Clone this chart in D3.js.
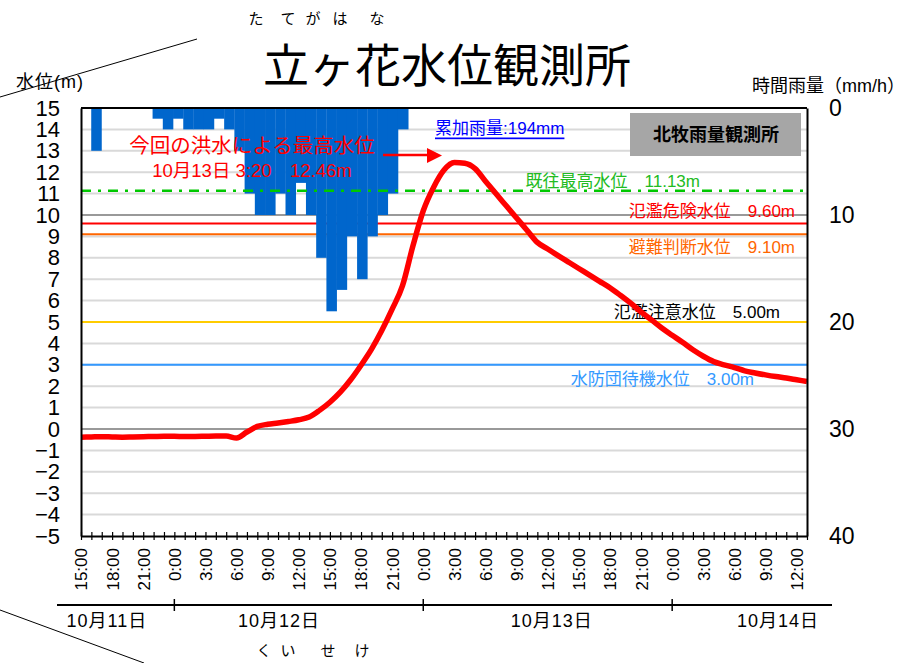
<!DOCTYPE html>
<html>
<head>
<meta charset="utf-8">
<script src="https://cdn.jsdelivr.net/npm/d3@7"></script>
<style>
body { margin: 0; background: #fff; }
svg { display: block; }
</style>
</head>
<body>
<svg id="chart" width="916" height="663"></svg>
<script>
// hourly readings, first one at 15:00 on 10/11, last one at 13:00 on 10/14
var start = new Date(2019, 9, 11, 15)

// water level (m) at Tategahana
var levels = [
  -0.38, -0.37, -0.36, -0.37, -0.38, -0.37, -0.36, -0.35, -0.34, -0.34,
  -0.35, -0.35, -0.34, -0.33, -0.33, -0.42, -0.14, 0.12, 0.22, 0.28,
  0.35, 0.43, 0.56, 0.87, 1.25, 1.72, 2.3, 2.98, 3.72, 4.6,
  5.6, 6.7, 8.55, 10.2, 11.3, 12.1, 12.45, 12.42, 12.17, 11.58,
  11.0, 10.43, 9.86, 9.29, 8.72, 8.41, 8.1, 7.8, 7.5, 7.2,
  6.9, 6.6, 6.25, 5.88, 5.47, 5.1, 4.72, 4.38, 4.05, 3.7,
  3.4, 3.15, 3.0, 2.87, 2.72, 2.62, 2.53, 2.45, 2.38, 2.3,
  2.22]

// hourly rain (mm/h) at Kitamaki, total 194 mm
var rain = [
  0, 4, 0, 0, 0, 0, 0, 1, 2, 1,
  2, 2, 2, 1, 2, 4, 8, 10, 10, 8,
  10, 7, 10, 14, 19, 17, 12, 16, 12, 10,
  8, 2, 0, 0, 0, 0, 0, 0, 0, 0,
  0, 0, 0, 0, 0, 0, 0, 0, 0, 0,
  0, 0, 0, 0, 0, 0, 0, 0, 0, 0,
  0, 0, 0, 0, 0, 0, 0, 0, 0, 0,
  0]

var levelTicks = d3.range(-5, 16)
var rainTicks = [0, 10, 20, 30, 40]
var dayNames = ["10月11日", "10月12日", "10月13日", "10月14日"]

var thresholdNames = ["既往最高水位", "氾濫危険水位", "避難判断水位", "氾濫注意水位", "水防団待機水位"]
var thresholdValues = [11.13, 9.60, 9.10, 5.00, 3.00]

var peakLabel = "10月13日 3:20　12.46m"
var rainTotal = 194

// look of each threshold line and its label
var thStyle = {
  "既往最高水位": {color: "#00c800", text: "#22bb22", end: 700, dy: -9, dash: "10,7,3,7", over: true},
  "氾濫危険水位": {color: "#ff0000", text: "#ff0000", end: 795, dy: -12},
  "避難判断水位": {color: "#ff6600", text: "#ff6600", end: 795, dy: 13},
  "氾濫注意水位": {color: "#ffcc00", text: "#000000", end: 780, dy: -10},
  "水防団待機水位": {color: "#3399ff", text: "#3399ff", end: 754, dy: 15}
}

var FONT = "'Liberation Sans', 'Noto Sans CJK JP', sans-serif"
var plotL = 81, plotR = 807, plotT = 108, plotB = 536

var svg = d3.select("#chart").attr("font-family", FONT)

var x = d3.scaleTime()
  .domain([start, d3.timeHour.offset(start, levels.length - 1)])
  .range([plotL, plotR])
var xb = d3.scaleBand().domain(d3.range(rain.length)).range([plotL, plotR]).padding(0)
var y = d3.scaleLinear().domain([-5, 15]).range([plotB, plotT])
var yRain = d3.scaleLinear().domain([0, 40]).range([plotT, plotB])

// decorative diagonal strokes of the original figure
svg.append("line").attr("x1", 0).attr("y1", 97).attr("x2", 197).attr("y2", 39).attr("stroke", "#000")
svg.append("line").attr("x1", 0).attr("y1", 610).attr("x2", 144).attr("y2", 663).attr("stroke", "#000")

// grid
svg.append("g").selectAll("line")
  .data(levelTicks.slice(1, -1))
  .join("line")
  .attr("x1", plotL).attr("x2", plotR)
  .attr("y1", d => y(d)).attr("y2", d => y(d))
  .attr("stroke", "#d9d9d9").attr("stroke-width", 2)
svg.append("g").selectAll("line")
  .data([10, 30])
  .join("line")
  .attr("x1", plotL).attr("x2", plotR)
  .attr("y1", d => yRain(d)).attr("y2", d => yRain(d))
  .attr("stroke", "#999").attr("stroke-width", 2)

// threshold lines (all but the record level sit under the rain)
function thLine(g, i) {
  var s = thStyle[thresholdNames[i]]
  g.append("line")
    .attr("x1", plotL).attr("x2", plotR)
    .attr("y1", y(thresholdValues[i])).attr("y2", y(thresholdValues[i]))
    .attr("stroke", s.color).attr("stroke-width", s.over ? 2.5 : 2)
    .attr("stroke-dasharray", s.dash || null)
}
var under = svg.append("g")
thresholdNames.forEach((n, i) => { if (!thStyle[n].over) thLine(under, i) })

// rain bars hanging from the top
svg.append("g").selectAll("rect")
  .data(rain)
  .join("rect")
  .attr("x", (d, i) => xb(i))
  .attr("width", xb.bandwidth() + 0.3)
  .attr("y", yRain(0))
  .attr("height", d => yRain(d) - yRain(0))
  .attr("fill", "#0066cc")

var overG = svg.append("g")
thresholdNames.forEach((n, i) => { if (thStyle[n].over) thLine(overG, i) })

// threshold labels
svg.append("g").selectAll("text")
  .data(thresholdNames)
  .join("text")
  .attr("x", d => thStyle[d].end)
  .attr("y", (d, i) => y(thresholdValues[i]) + thStyle[d].dy)
  .attr("text-anchor", "end")
  .attr("dominant-baseline", "central")
  .attr("font-size", 17)
  .attr("fill", d => thStyle[d].text)
  .text((d, i) => d + "　" + thresholdValues[i].toFixed(2) + "m")

// rain station box and total
svg.append("rect").attr("x", 630).attr("y", 113).attr("width", 171).attr("height", 43).attr("fill", "#a6a6a6")
svg.append("text").attr("x", 716).attr("y", 135)
  .attr("text-anchor", "middle").attr("dominant-baseline", "central")
  .attr("font-size", 18).attr("font-weight", "bold")
  .text("北牧雨量観測所")
svg.append("text").attr("x", 435).attr("y", 128)
  .attr("dominant-baseline", "central")
  .attr("font-size", 17).attr("fill", "#0000ff")
  .attr("text-decoration", "underline")
  .text("累加雨量:" + rainTotal + "mm")

// peak annotation
svg.append("text").attr("x", 252).attr("y", 145)
  .attr("text-anchor", "middle").attr("dominant-baseline", "central")
  .attr("font-size", 20.5).attr("fill", "#ff0000")
  .text("今回の洪水による最高水位")
svg.append("text").attr("x", 252).attr("y", 170)
  .attr("text-anchor", "middle").attr("dominant-baseline", "central")
  .attr("font-size", 18.5).attr("fill", "#ff0000")
  .text(peakLabel)
svg.append("line").attr("x1", 383).attr("y1", 155).attr("x2", 430).attr("y2", 155)
  .attr("stroke", "#ff0000").attr("stroke-width", 2.5)
svg.append("path").attr("d", "M427,148L442,155.5L427,163Z").attr("fill", "#ff0000")

// water level line
var line = d3.line()
  .x((d, i) => x(d3.timeHour.offset(start, i)))
  .y(d => y(d))
  .curve(d3.curveMonotoneX)
svg.append("path")
  .datum(levels)
  .attr("d", line)
  .attr("fill", "none")
  .attr("stroke", "#ff0000")
  .attr("stroke-width", 5.5)
  .attr("stroke-linejoin", "round")

// frame top
svg.append("line").attr("x1", plotL).attr("x2", plotR).attr("y1", plotT).attr("y2", plotT)
  .attr("stroke", "#000").attr("stroke-width", 2)

// axes
var ax = svg.append("g").attr("transform", "translate(" + plotL + ",0)")
  .call(d3.axisLeft(y).tickValues(levelTicks).tickSize(0).tickPadding(21))
ax.attr("font-family", FONT).attr("font-size", 22)
ax.select(".domain").attr("stroke-width", 2)
ax.selectAll("text").attr("fill", "#000")

var ar = svg.append("g").attr("transform", "translate(" + plotR + ",0)")
  .call(d3.axisRight(yRain).tickValues(rainTicks).tickSize(0).tickPadding(22))
ar.attr("font-family", FONT).attr("font-size", 23)
ar.select(".domain").attr("stroke-width", 2)
ar.selectAll("text").attr("fill", "#000")

var ab = svg.append("g").attr("transform", "translate(0," + plotB + ")")
  .call(d3.axisBottom(x).ticks(d3.timeHour.every(1)).tickSize(4).tickSizeOuter(0).tickFormat(""))
ab.select(".domain").attr("stroke-width", 2)
ab.selectAll(".tick line").attr("y1", -4).attr("stroke-width", 1.2)

var al = svg.append("g").attr("transform", "translate(0," + plotB + ")")
  .call(d3.axisBottom(x).ticks(d3.timeHour.every(3)).tickSize(0).tickFormat(d3.timeFormat("%-H:%M")))
al.attr("font-family", FONT).attr("font-size", 17)
al.select(".domain").remove()
al.selectAll("text")
  .attr("transform", "rotate(-90)")
  .attr("x", -12).attr("y", 0).attr("dy", "0.35em")
  .attr("text-anchor", "end")
  .attr("fill", "#000")

// date row
var dayStarts = d3.timeDay.range(d3.timeDay.offset(d3.timeDay.floor(start), 1), x.domain()[1])
svg.append("line").attr("x1", 57).attr("x2", 832).attr("y1", 605).attr("y2", 605)
  .attr("stroke", "#000").attr("stroke-width", 2)
svg.append("g").selectAll("line")
  .data(dayStarts)
  .join("line")
  .attr("x1", d => x(d)).attr("x2", d => x(d))
  .attr("y1", 599).attr("y2", 611)
  .attr("stroke", "#000").attr("stroke-width", 1.5)
var dayLabelAt = [2.5, 19.1, 45.4, 67.2] // hours after start where each day name sits
svg.append("g").selectAll("text")
  .data(dayNames)
  .join("text")
  .attr("x", (d, i) => x(d3.timeMinute.offset(start, dayLabelAt[i] * 60)))
  .attr("y", 621)
  .attr("text-anchor", "middle").attr("dominant-baseline", "central")
  .attr("font-size", 18).attr("letter-spacing", 1)
  .text(d => d)

// titles
svg.append("text").attr("x", 447).attr("y", 82)
  .attr("text-anchor", "middle").attr("font-size", 46)
  .attr("font-family", "'Noto Sans CJK JP', sans-serif")
  .text("立ヶ花水位観測所")
var kana = [["た", 256], ["て", 288], ["が", 313], ["は", 340], ["な", 377]]
svg.append("g").selectAll("text")
  .data(kana)
  .join("text")
  .attr("x", d => d[1]).attr("y", 18)
  .attr("text-anchor", "middle").attr("dominant-baseline", "central")
  .attr("font-size", 15)
  .text(d => d[0])
var kana2 = [["く", 264], ["い", 288], ["せ", 328], ["け", 362]]
svg.append("g").selectAll("text")
  .data(kana2)
  .join("text")
  .attr("x", d => d[1]).attr("y", 650)
  .attr("text-anchor", "middle").attr("dominant-baseline", "central")
  .attr("font-size", 15)
  .text(d => d[0])

svg.append("text").attr("x", 16).attr("y", 82)
  .attr("dominant-baseline", "central")
  .attr("font-size", 18).attr("letter-spacing", 1)
  .text("水位(m)")
svg.append("text").attr("x", 752).attr("y", 86)
  .attr("dominant-baseline", "central")
  .attr("font-size", 18)
  .text("時間雨量（mm/h）")
</script>
</body>
</html>
